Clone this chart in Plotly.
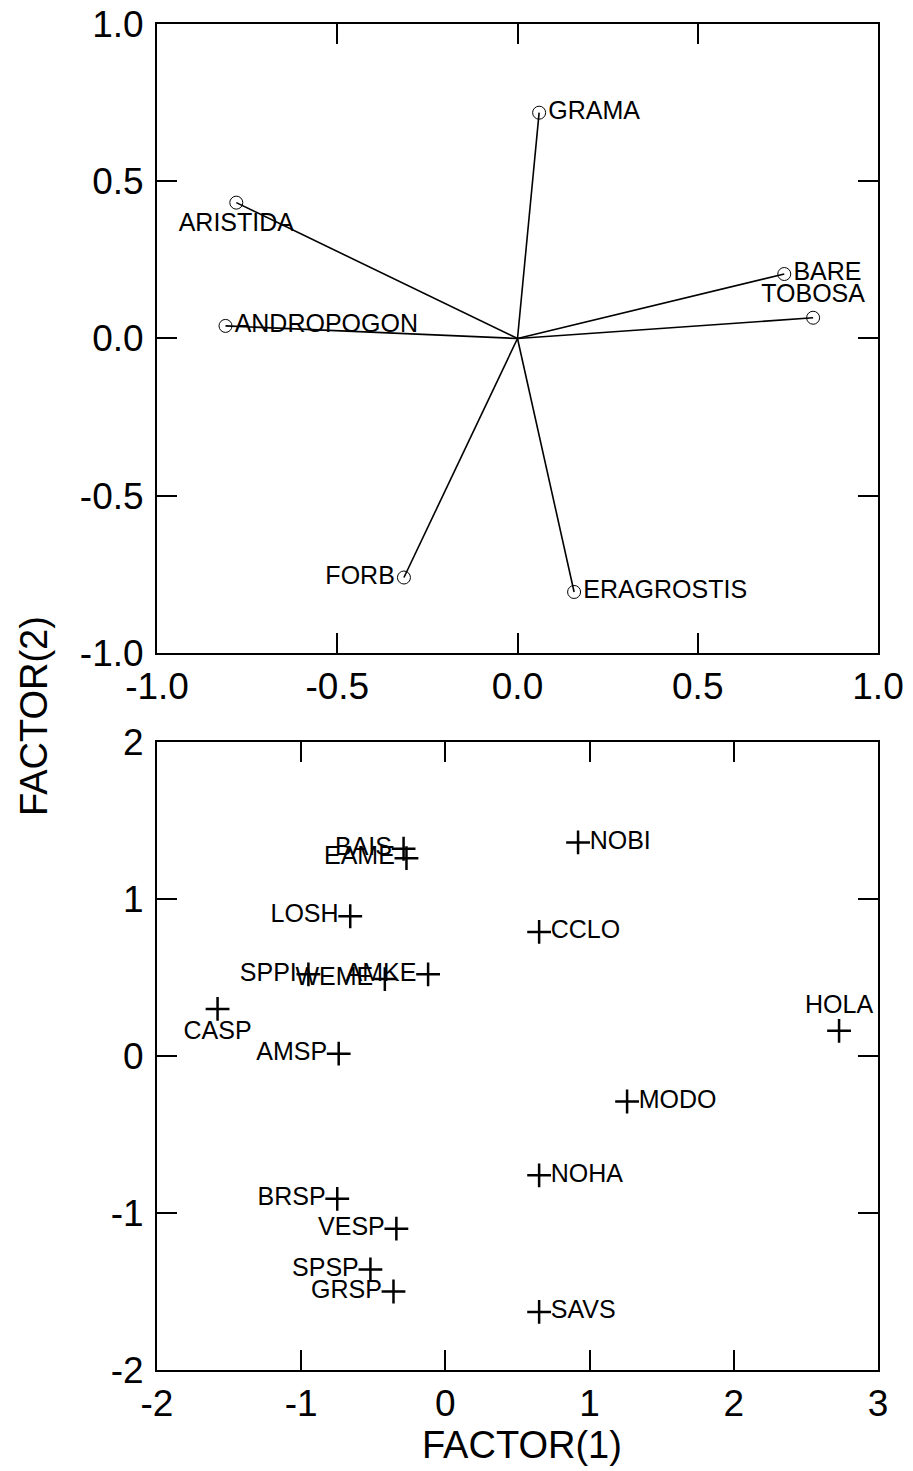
import plotly.graph_objects as go

# ---- Top panel: loading vectors ----
top_names = ["GRAMA", "ARISTIDA", "ANDROPOGON", "BARE", "TOBOSA", "FORB", "ERAGROSTIS"]
top_x = [0.06, -0.78, -0.81, 0.74, 0.82, -0.315, 0.157]
top_y = [0.718, 0.432, 0.04, 0.205, 0.066, -0.76, -0.806]
top_pos = ["middle right", "bottom center", "middle right", "middle right",
           "top center", "middle left", "middle right"]

top_ticks = [-1.0, -0.5, 0.0, 0.5, 1.0]
top_ticktext = ["-1.0", "-0.5", "0.0", "0.5", "1.0"]

# ---- Bottom panel: species scores ----
bot_names = ["BAIS", "EAME", "LOSH", "SPPI", "WEME", "AMKE", "CASP", "AMSP",
             "NOBI", "CCLO", "HOLA", "MODO", "NOHA", "BRSP", "VESP", "SPSP",
             "GRSP", "SAVS"]
bot_x = [-0.29, -0.27, -0.66, -0.95, -0.42, -0.12, -1.58, -0.74,
         0.92, 0.65, 2.73, 1.26, 0.65, -0.75, -0.34, -0.52,
         -0.36, 0.65]
bot_y = [1.32, 1.26, 0.89, 0.52, 0.49, 0.52, 0.30, 0.015,
         1.36, 0.79, 0.16, -0.29, -0.76, -0.91, -1.10, -1.36,
         -1.50, -1.63]
bot_pos = ["middle left", "middle left", "middle left", "middle left", "middle left",
           "middle left", "bottom center", "middle left",
           "middle right", "middle right", "top center", "middle right",
           "middle right", "middle left", "middle left", "middle left",
           "middle left", "middle right"]

bot_xticks = [-2, -1, 0, 1, 2, 3]
bot_xticktext = ["-2", "-1", "0", "1", "2", "3"]
bot_yticks = [-2, -1, 0, 1, 2]
bot_yticktext = ["-2", "-1", "0", "1", "2"]

FONT = "Liberation Sans, Arial, sans-serif"
LABEL_SIZE = 25

fig = go.Figure()

# vectors from origin
for xv, yv in zip(top_x, top_y):
    fig.add_trace(go.Scatter(x=[0, xv], y=[0, yv], mode="lines",
                             line=dict(color="black", width=1.6),
                             xaxis="x", yaxis="y", showlegend=False,
                             hoverinfo="skip"))

fig.add_trace(go.Scatter(x=top_x, y=top_y, mode="markers+text", text=top_names,
                         textposition=top_pos,
                         textfont=dict(family=FONT, size=LABEL_SIZE, color="black"),
                         marker=dict(symbol="circle-open", size=13, color="black",
                                     line=dict(color="black", width=1)),
                         xaxis="x", yaxis="y", showlegend=False, cliponaxis=False))

fig.add_trace(go.Scatter(x=bot_x, y=bot_y, mode="markers+text", text=bot_names,
                         textposition=bot_pos,
                         textfont=dict(family=FONT, size=LABEL_SIZE, color="black"),
                         marker=dict(symbol="cross-thin-open", size=17, color="black",
                                     line=dict(color="black", width=2.5)),
                         xaxis="x2", yaxis="y2", showlegend=False, cliponaxis=False))

axis_common = dict(showgrid=False, zeroline=False, showline=True, linecolor="black",
                   linewidth=2, mirror="ticks", ticks="inside", ticklen=20,
                   tickwidth=2, tickcolor="black", automargin=False,
                   ticklabeloverflow="allow",
                   tickfont=dict(family=FONT, size=37, color="black"))

# page body has an 8px margin, so the figure is 16px smaller than the window
fig.update_layout(
    width=905, height=1463,
    paper_bgcolor="white", plot_bgcolor="white",
    margin=dict(l=149, r=35, t=16, b=101),
    xaxis=dict(domain=[0, 1], range=[-1, 1], anchor="y",
               tickvals=top_ticks, ticktext=top_ticktext, **axis_common),
    yaxis=dict(domain=[0.5327, 1], range=[-1, 1], anchor="x", ticklabelstandoff=4,
               tickvals=top_ticks, ticktext=top_ticktext, **axis_common),
    xaxis2=dict(domain=[0, 1], range=[-2, 3], anchor="y2",
                tickvals=bot_xticks, ticktext=bot_xticktext, **axis_common),
    yaxis2=dict(domain=[0, 0.4666], range=[-2, 2], anchor="x2", ticklabelstandoff=4,
                tickvals=bot_yticks, ticktext=bot_yticktext, **axis_common),
    annotations=[
        dict(text="FACTOR(2)", xref="paper", yref="paper", x=-0.1706, y=0.4859,
             xanchor="center", yanchor="middle", textangle=-90, showarrow=False,
             font=dict(family=FONT, size=38, color="black")),
        dict(text="FACTOR(1)", xref="paper", yref="paper", x=0.506, y=-0.0557,
             xanchor="center", yanchor="middle", showarrow=False,
             font=dict(family=FONT, size=38, color="black")),
    ],
)

fig.write_html("out.html")
